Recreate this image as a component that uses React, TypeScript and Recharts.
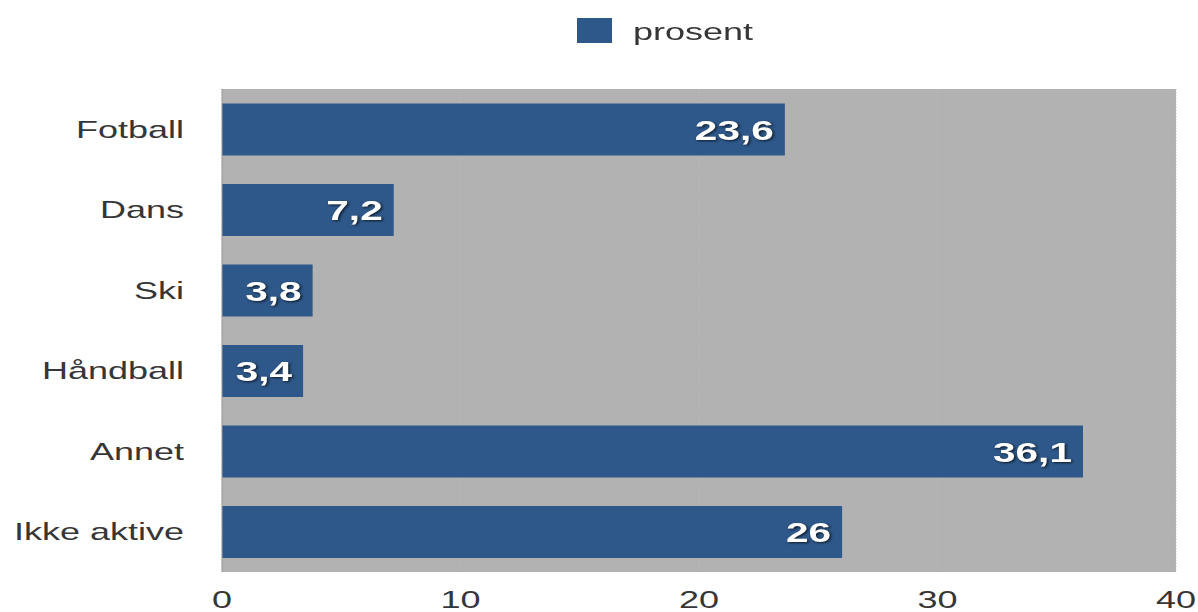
import { BarChart, Bar, XAxis, YAxis, CartesianGrid, Legend, LabelList } from "recharts";

const categories = ["Fotball", "Dans", "Ski", "Håndball", "Annet", "Ikke aktive"];
const prosent = [23.6, 7.2, 3.8, 3.4, 36.1, 26];
const xTicks = [0, 10, 20, 30, 40];

const data = categories.map((name, i) => ({ name, prosent: prosent[i] }));

const BAR = "#2e5889";
const TEXT = "#363636";
const FONT = "'Liberation Sans', Arial, sans-serif";
const SX = 1.5; // the source image is stretched sideways

function YTick({ x, y, payload }: any) {
  return (
    <g transform={`translate(${x},${y}) scale(${SX},1)`}>
      <text x={0} y={0} dy="0.36em" textAnchor="end" fontSize={24} fill={TEXT} fontFamily={FONT}>
        {payload.value}
      </text>
    </g>
  );
}

function XTick({ x, y, payload }: any) {
  return (
    <g transform={`translate(${x},${y}) scale(${SX},1)`}>
      <text x={0} y={0} dy="0.71em" textAnchor="middle" fontSize={24} fill={TEXT} fontFamily={FONT}>
        {payload.value}
      </text>
    </g>
  );
}

function ValueLabel({ x, y, width, height, value }: any) {
  const txt = String(value).replace(".", ",");
  return (
    <g transform={`translate(${x + width - 11},${y + height / 2}) scale(1.45,1)`}>
      <text
        x={0}
        y={0}
        dy="0.36em"
        textAnchor="end"
        fontSize={28}
        fontWeight="bold"
        fill="#fff"
        fontFamily={FONT}
        style={{ filter: "drop-shadow(1px 1px 1px rgba(0,0,0,0.7))" }}
      >
        {txt}
      </text>
    </g>
  );
}

// zero-height box so the legend takes no room from the plot
function LegendBox() {
  return (
    <div style={{ position: "relative", width: 1198, height: 0 }}>
      <div style={{ position: "absolute", left: 577, top: 18, width: 35, height: 25, background: BAR }} />
      <div
        style={{
          position: "absolute",
          left: 633,
          top: 18,
          fontSize: 24,
          lineHeight: "28px",
          color: TEXT,
          fontFamily: FONT,
          transform: `scaleX(${SX})`,
          transformOrigin: "left center",
          whiteSpace: "nowrap",
        }}
      >
        prosent
      </div>
    </div>
  );
}

export default function App() {
  return (
    <div style={{ position: "absolute", left: 0, top: 0, width: 1198, height: 612, background: "#fff" }}>
      <BarChart
        width={1198}
        height={612}
        data={data}
        layout="vertical"
        margin={{ top: 89, right: 22, bottom: 10, left: 0 }}
        barCategoryGap="18%"
      >
        <CartesianGrid fill="#b2b2b2" horizontal={false} stroke="#bcbcbc" strokeDasharray="1 2" />
        <XAxis
          type="number"
          domain={[0, 40]}
          ticks={xTicks}
          height={30}
          axisLine={false}
          tickLine={false}
          tickSize={0}
          tickMargin={19}
          tick={<XTick />}
          interval={0}
        />
        <YAxis
          type="category"
          dataKey="name"
          width={222}
          axisLine={{ stroke: "#9a9a9a" }}
          tickLine={false}
          tickSize={0}
          tickMargin={38}
          tick={<YTick />}
          interval={0}
        />
        <Legend verticalAlign="top" wrapperStyle={{ top: 0, left: 0, height: 0 }} content={() => <LegendBox />} />
        <Bar dataKey="prosent" name="prosent" fill={BAR} isAnimationActive={false}>
          <LabelList dataKey="prosent" content={<ValueLabel />} />
        </Bar>
      </BarChart>
    </div>
  );
}
